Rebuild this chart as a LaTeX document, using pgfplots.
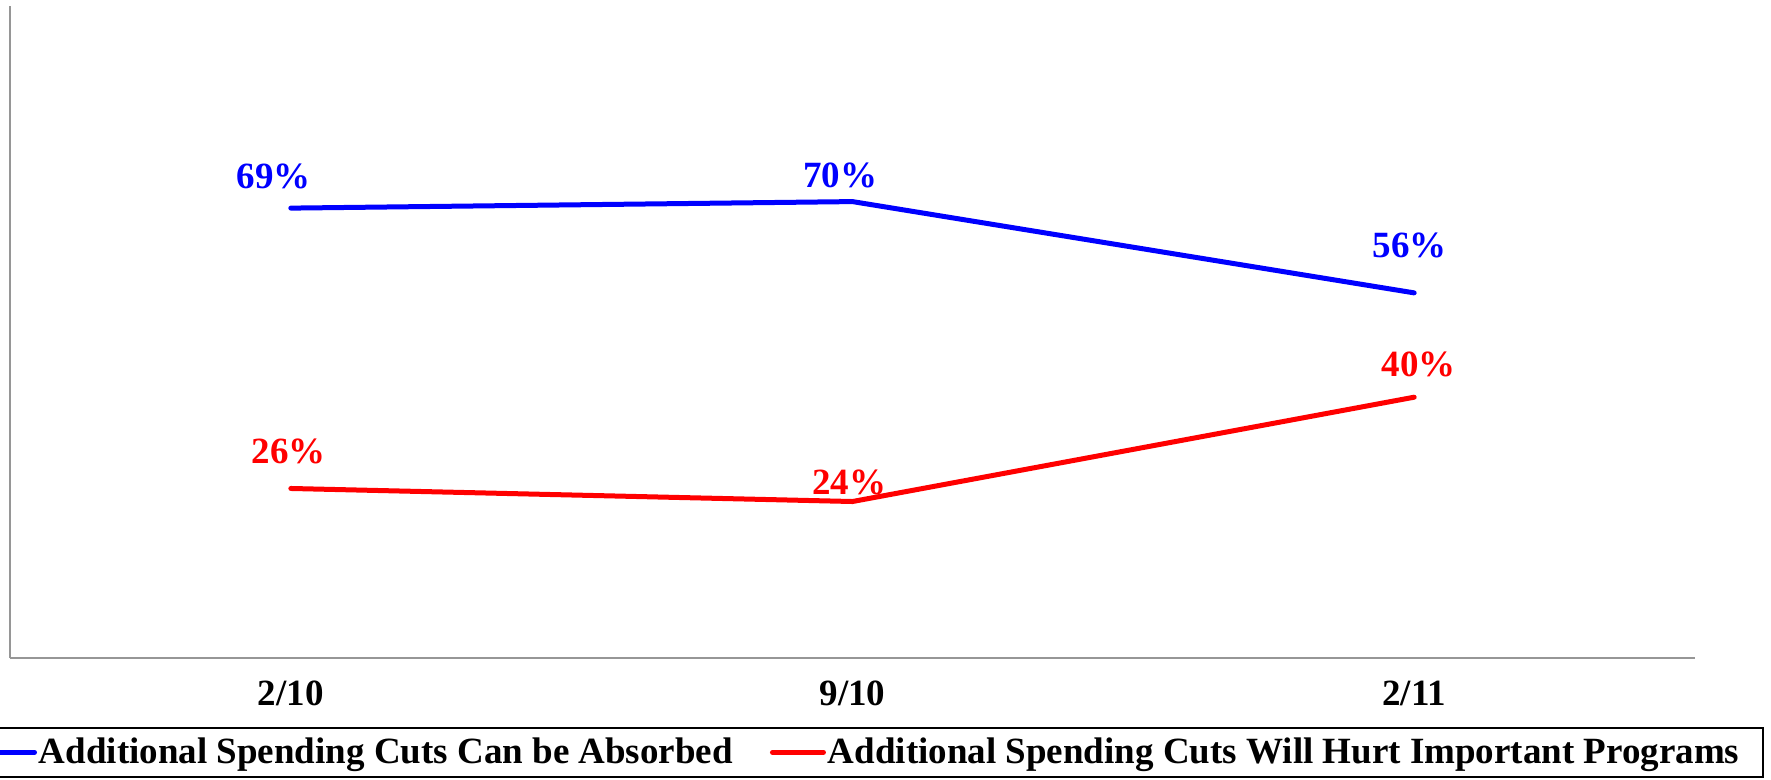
\documentclass[border=0pt]{standalone}
\usepackage{pgfplots}
\pgfplotsset{compat=1.18}
\usepackage{pgfplotstable}
\usepackage{fontspec}
\setmainfont{Liberation Serif}

\pgfplotstableread{
x y dx dy
0 69 -8.5 15.8
1 70 -6.2 13.0
2 56 -2.3 23.7
}\absorbed

\pgfplotstableread{
x y dx dy
0 26 -1.1 18.6
1 24 -1.7 9.6
2 40 2.3 16.4
}\hurt

\definecolor{axisgray}{RGB}{150,150,150}

\begin{document}
\begin{tikzpicture}
\useasboundingbox (0,0) rectangle (885.5bp,390bp);
\begin{axis}[
    at={(5bp,61bp)}, anchor=south west,
    scale only axis,
    width=842.5bp, height=326bp,
    xmin=-0.5, xmax=2.5,
    ymin=0, ymax=100,
    axis x line=bottom, axis y line=left,
    axis line style={draw=axisgray, line width=1bp, -},
    xtick={0,1,2},
    xticklabels={2/10, 9/10, 2/11},
    ytick=\empty,
    major tick length=0pt,
    xticklabel style={yshift=-8bp},
    font=\fontsize{18.5bp}{22bp}\selectfont\bfseries,
    clip=false,
    legend columns=2,
    legend style={
        at={(axis description cs:0,0)}, anchor=north west,
        xshift=-26bp, yshift=-34.5bp,
        draw=black, line width=1bp,
        inner xsep=11bp, inner ysep=3bp,
        nodes={inner xsep=1bp},
        font=\fontsize{18.5bp}{22bp}\selectfont\bfseries,
        /tikz/every even column/.append style={column sep=17.5bp},
    },
    legend image code/.code={\draw[#1, line width=2.5bp, line cap=round] (1.25bp,0bp) -- (26.75bp,0bp);},
    nodes near coords={\pgfmathprintnumber[assume math mode=true]{\pgfplotspointmeta}\%},
    visualization depends on={\thisrow{dx} \as \dx},
    visualization depends on={\thisrow{dy} \as \dy},
    nodes near coords style={anchor=center, xshift={\dx bp}, yshift={\dy bp},
        font=\fontsize{18.5bp}{22bp}\selectfont\bfseries},
]
\addplot[color=blue, line width=2.5bp, line cap=round, mark=none,
    nodes near coords style={text=blue}] table[x=x, y=y] {\absorbed};
\addlegendentry{Additional Spending Cuts Can be Absorbed}
\addplot[color=red, line width=2.5bp, line cap=round, mark=none,
    nodes near coords style={text=red}] table[x=x, y=y] {\hurt};
\addlegendentry{Additional Spending Cuts Will Hurt Important Programs}
\end{axis}
\end{tikzpicture}
\end{document}
